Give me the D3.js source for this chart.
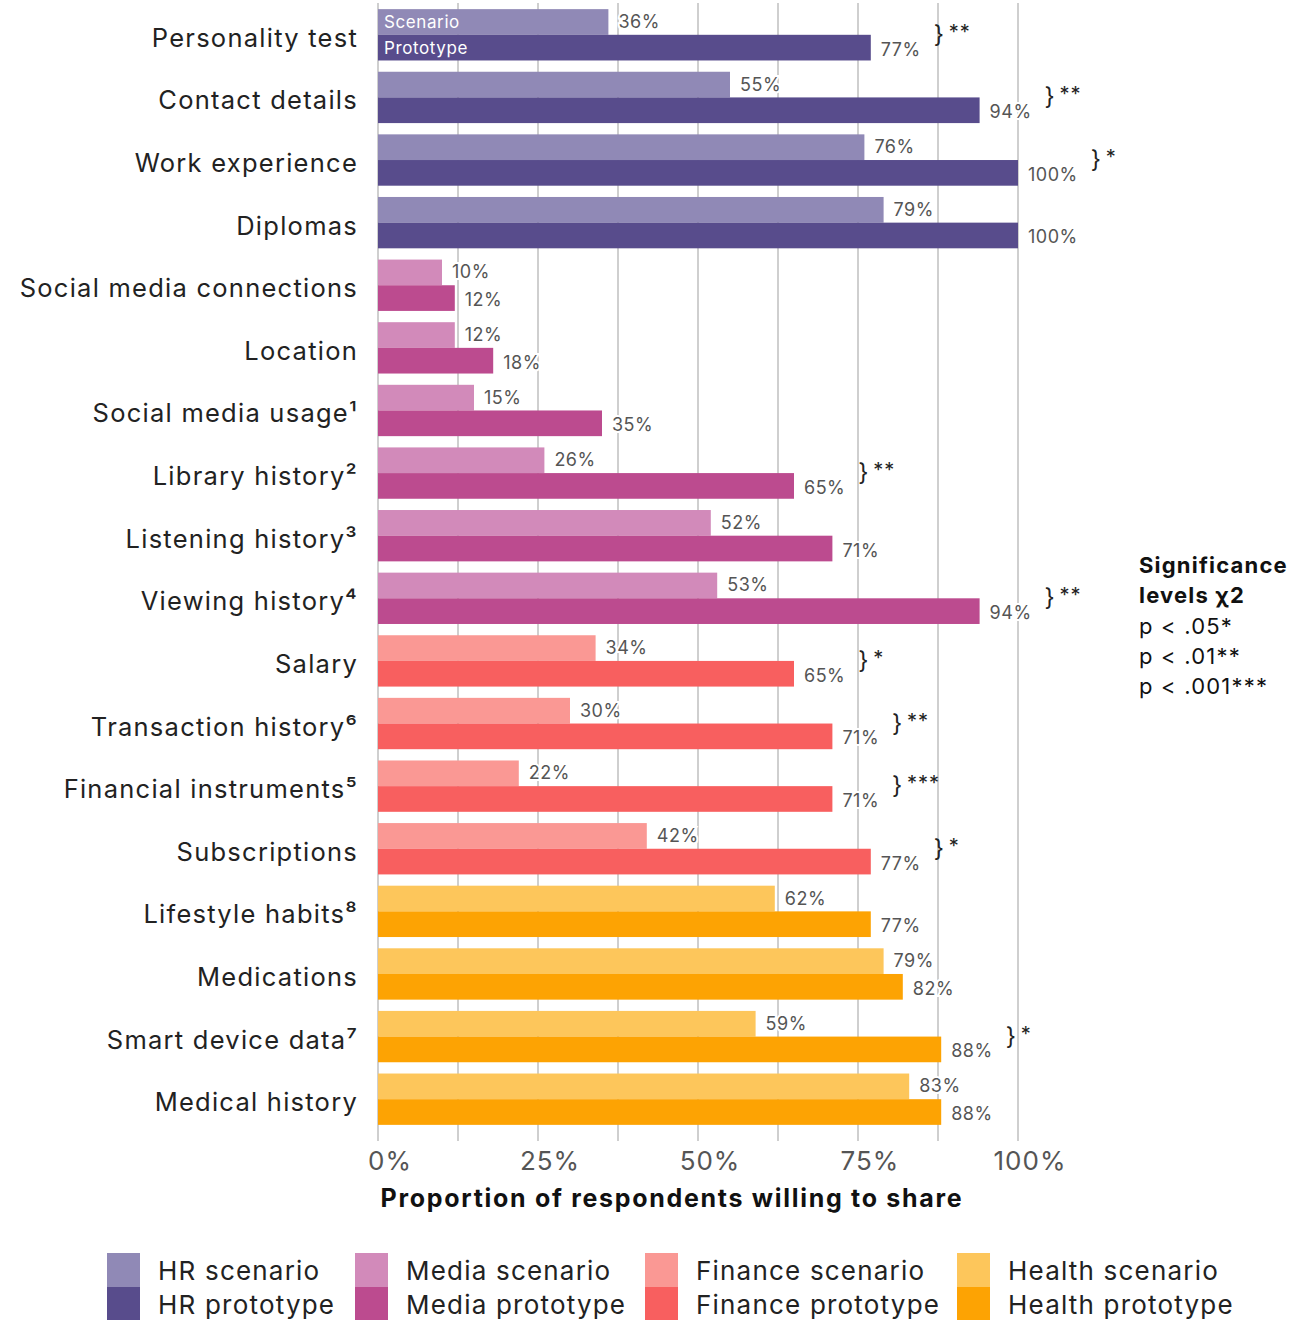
<!DOCTYPE html>
<html>
<head>
<meta charset="UTF-8">
<title>Willingness to share</title>
<script src="https://cdn.jsdelivr.net/npm/d3@7"></script>
<style>
  body{margin:0;background:#fff;}
  svg{display:block;font-family:Inter,"Noto Sans",sans-serif;}
</style>
</head>
<body>
<script>
// categories, top to bottom
var categories = ["Personality test","Contact details","Work experience","Diplomas",
  "Social media connections","Location","Social media usage¹","Library history²",
  "Listening history³","Viewing history⁴","Salary","Transaction history⁶",
  "Financial instruments⁵","Subscriptions","Lifestyle habits⁸","Medications",
  "Smart device data⁷","Medical history"];
var domains = ["HR","HR","HR","HR","Media","Media","Media","Media","Media","Media",
  "Finance","Finance","Finance","Finance","Health","Health","Health","Health"];
var scenario  = [36,55,76,79,10,12,15,26,52,53,34,30,22,42,62,79,59,83];
var prototype = [77,94,100,100,12,18,35,65,71,94,65,71,71,77,77,82,88,88];
var signif    = ["**","**","*","","","","","**","","**","*","**","***","*","","","*",""];
var ticks = [0,25,50,75,100];
var legendDomains = ["HR","Media","Finance","Health"];
var sigLegend = ["p < .05*","p < .01**","p < .001***"];

var colScen = {HR:"#9089b6",Media:"#d28aba",Finance:"#fa9894",Health:"#fdc65b"};
var colProt = {HR:"#584c8c",Media:"#bc4b8f",Finance:"#f85f5f",Health:"#fda303"};

var W = 1314, H = 1320;
var svg = d3.select("body").append("svg").attr("width",W).attr("height",H);

var x = d3.scaleLinear().domain([0,100]).range([378,1018]);
var y = d3.scaleBand().domain(categories).range([3.5,1130.5])
  .paddingInner(0.18).paddingOuter(0.09);
var sub = d3.scaleBand().domain(["s","p"]).range([0,y.bandwidth()]);

var rows = categories.map(function(c,i){
  return {cat:c, dom:domains[i], s:scenario[i], p:prototype[i], sig:signif[i]};
});

// gridlines every 12.5%
var grid = d3.range(0,100.1,12.5);
svg.append("g").selectAll("line").data(grid).enter().append("line")
  .attr("x1",function(d){return x(d);}).attr("x2",function(d){return x(d);})
  .attr("y1",3).attr("y2",1141)
  .attr("stroke","#cfcfcf").attr("stroke-width",2);

// bars
var g = svg.append("g").selectAll("g").data(rows).enter().append("g")
  .attr("transform",function(d){return "translate(0,"+y(d.cat)+")";});

g.append("rect").attr("x",x(0)).attr("y",sub("s"))
  .attr("width",function(d){return x(d.s)-x(0);}).attr("height",sub.bandwidth())
  .attr("fill",function(d){return colScen[d.dom];});
g.append("rect").attr("x",x(0)).attr("y",sub("p"))
  .attr("width",function(d){return x(d.p)-x(0);}).attr("height",sub.bandwidth())
  .attr("fill",function(d){return colProt[d.dom];});

// value labels
function valLabel(key, dy){
  return g.append("text")
    .attr("x",function(d){return x(d[key])+10;})
    .attr("y",sub(key)+sub.bandwidth()/2+dy)
    .attr("font-size",18).attr("fill","#555").attr("letter-spacing",0.5)
    .attr("stroke","#fff").attr("stroke-width",4).attr("paint-order","stroke")
    .text(function(d){return d[key]+"%";});
}
valLabel("s",6);
var pl = valLabel("p",8);

// significance braces
pl.each(function(d){
  if(!d.sig) return;
  var bx = x(d.p)+10+this.getComputedTextLength()+13;
  var row = d3.select(this.parentNode);
  row.append("text").attr("x",bx).attr("y",y.bandwidth()/2+8)
    .attr("font-size",24).attr("fill","#222").text("}");
  row.append("text").attr("x",bx+15).attr("y",y.bandwidth()/2+4)
    .attr("font-size",20).attr("fill","#222").attr("letter-spacing",1).text(d.sig);
});

// inside labels on first row
var first = svg.append("g").attr("transform","translate(0,"+y(categories[0])+")");
first.append("text").attr("x",384).attr("y",sub("s")+sub.bandwidth()/2+6)
  .attr("font-size",17).attr("fill","#fff").attr("letter-spacing",0.6).text("Scenario");
first.append("text").attr("x",384).attr("y",sub("p")+sub.bandwidth()/2+6)
  .attr("font-size",17).attr("fill","#fff").attr("letter-spacing",0.6).text("Prototype");

// category labels
svg.append("g").selectAll("text").data(rows).enter().append("text")
  .attr("x",358).attr("y",function(d){return y(d.cat)+y.bandwidth()/2+12;})
  .attr("text-anchor","end").attr("font-size",25.5).attr("fill","#222")
  .attr("letter-spacing",1.25)
  .text(function(d){return d.cat;});

// x axis tick labels
svg.append("g").selectAll("text").data(ticks).enter().append("text")
  .attr("x",function(d){return x(d)+12;}).attr("y",1170)
  .attr("text-anchor","middle").attr("font-size",26).attr("fill","#555")
  .attr("letter-spacing",1)
  .text(function(d){return d+"%";});

svg.append("text").attr("x",672).attr("y",1207).attr("text-anchor","middle")
  .attr("font-size",25).attr("font-weight",700).attr("fill","#111")
  .attr("letter-spacing",1.7)
  .text("Proportion of respondents willing to share");

// significance legend
var sl = svg.append("g").attr("font-size",22).attr("fill","#111").attr("letter-spacing",1.2);
sl.append("text").attr("x",1139).attr("y",573).attr("font-weight",700).text("Significance");
sl.append("text").attr("x",1139).attr("y",603).attr("font-weight",700).text("levels χ2");
sl.selectAll("text.p").data(sigLegend).enter().append("text").attr("class","p")
  .attr("x",1139).attr("y",function(d,i){return 634+i*30;}).text(function(d){return d;});

// bottom legend
var lx = [107,355,645,957];
var lg = svg.append("g").selectAll("g").data(legendDomains).enter().append("g")
  .attr("transform",function(d,i){return "translate("+lx[i]+",0)";});
lg.append("rect").attr("x",0).attr("y",1253).attr("width",33).attr("height",34)
  .attr("fill",function(d){return colScen[d];});
lg.append("rect").attr("x",0).attr("y",1287).attr("width",33).attr("height",34)
  .attr("fill",function(d){return colProt[d];});
lg.append("text").attr("x",51).attr("y",1280).attr("font-size",26).attr("fill","#222")
  .attr("letter-spacing",1.2)
  .text(function(d){return d+" scenario";});
lg.append("text").attr("x",51).attr("y",1314).attr("font-size",26).attr("fill","#222")
  .attr("letter-spacing",1.2)
  .text(function(d){return d+" prototype";});
</script>
</body>
</html>
